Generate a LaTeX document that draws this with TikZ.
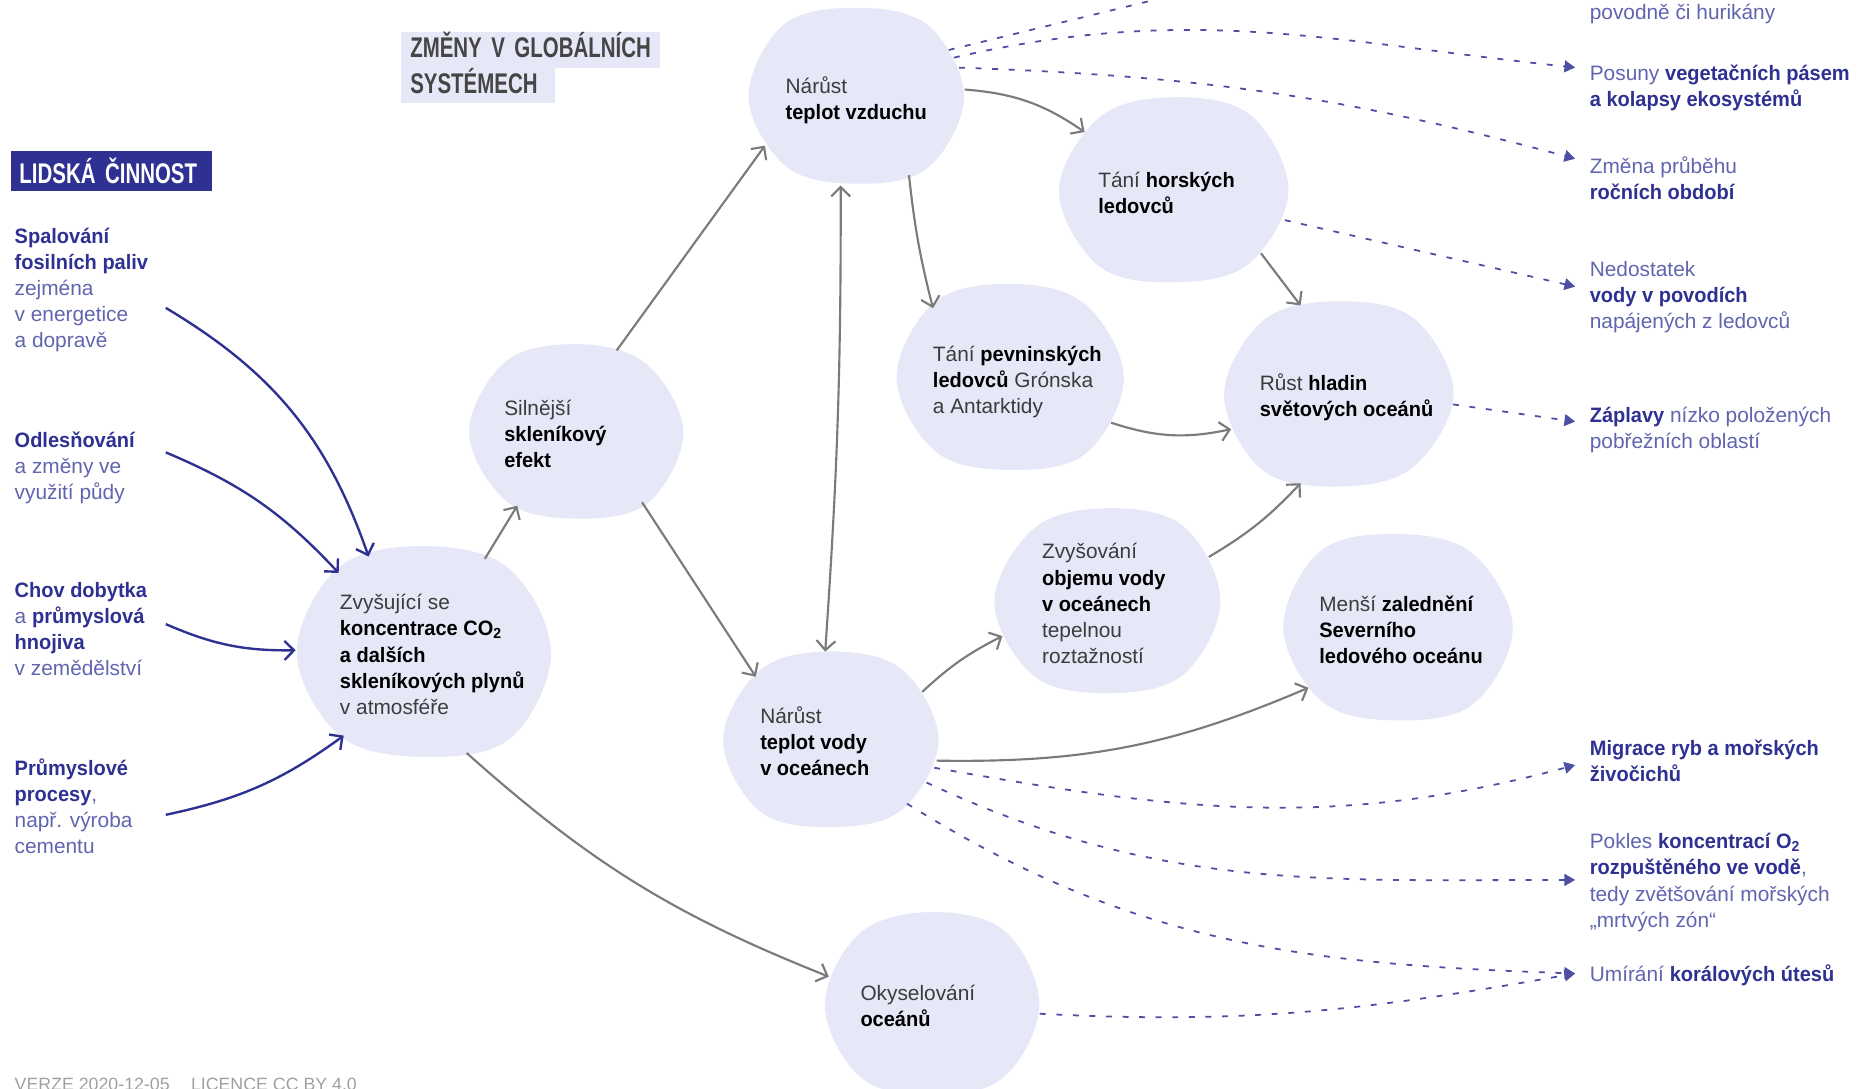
\documentclass[tikz,border=0pt]{standalone}
\usepackage{fontspec}
\setmainfont{Liberation Sans}[BoldFeatures={FakeStretch=0.96}]
\newfontfamily\headfont{Liberation Sans}[FakeStretch=0.72]
\usetikzlibrary{arrows.meta,calc,backgrounds,shapes.geometric}
\definecolor{navy}{HTML}{2E3192}
\definecolor{lblue}{HTML}{6165B0}
\definecolor{lav}{HTML}{E6E8F8}
\definecolor{gtext}{HTML}{3C3C3C}
\definecolor{garrow}{HTML}{7B7B7B}
\definecolor{headgrey}{HTML}{454545}
\definecolor{foot}{HTML}{A0A0A0}
\newcommand\Nb[1]{{\bfseries\color{navy}#1}}
\newcommand\Kb[1]{{\bfseries\color{black}#1}}
\newcommand\bt[2]{\kern#1\raisebox{0pt}[\height][\dimexpr\depth-3.6pt\relax]{\begin{tabular}{@{}l@{}}#2\end{tabular}}\kern-#1}
\newcommand\blob[9]{%
  \fill[lav] plot[smooth cycle, tension=0.6] coordinates {
    ($(#1.center)!#2!(#1.0)$) ($(#1.center)!#3!(#1.45)$)
    ($(#1.center)!#4!(#1.90)$) ($(#1.center)!#5!(#1.135)$)
    ($(#1.center)!#6!(#1.180)$) ($(#1.center)!#7!(#1.225)$)
    ($(#1.center)!#8!(#1.270)$) ($(#1.center)!#9!(#1.315)$)};}
\begin{document}
\begin{tikzpicture}[x=0.5pt,y=0.5pt,
  every node/.style={inner sep=0pt},
  body/.style={font=\fontsize{8.8}{11}\selectfont},
  side/.style={body, text=lblue, align=left, anchor=north west},
  bub/.style={body, ellipse, text=gtext, inner sep=-8pt},
  head/.style={anchor=north west, font=\headfont\bfseries\fontsize{12}{14}\selectfont, align=left, inner ysep=0pt},
  garr/.style={draw=garrow, line width=0.9pt, -{Straight Barb[length=4pt,width=8pt]}},
  narr/.style={draw=navy, line width=1pt, -{Straight Barb[length=4pt,width=8pt]}},
  dashl/.style={draw=navy!85, line width=0.75pt, dash pattern=on 2.5pt off 4.5pt, -{Triangle[length=4.5pt,width=5pt]}},
]
\begin{pgfonlayer}{background}
\fill[white] (0,0) rectangle (1568,919);
\end{pgfonlayer}
\useasboundingbox (0,0) rectangle (1568,919);

% headings
\node[head, fill=navy, text=white, minimum height=17pt, text width=78pt, inner xsep=3.5pt] (hum) at (9,792) {\mbox{LIDSKÁ ČINNOST}};
\node[head, fill=lav, text=headgrey, minimum height=15pt, text width=101.5pt, inner xsep=4pt, text height=8pt, text depth=1.5pt] (zm1) at (338,892) {\mbox{ZMĚNY V GLOBÁLNÍCH}};
\node[head, fill=lav, text=headgrey, minimum height=15pt, text width=57pt, inner xsep=4pt, text height=8pt, text depth=1.5pt] (zm2) at (338,862) {\mbox{SYSTÉMECH}};

% left column
\node[side] (t1) at (12,729) {\strut\Nb{Spalování}\\\Nb{fosilních paliv}\\zejména\\v energetice\\a dopravě};
\node[side] (t2) at (12,557) {\strut\Nb{Odlesňování}\\a změny ve\\využití půdy};
\node[side] (t3) at (12,430) {\strut\Nb{Chov dobytka}\\a \Nb{průmyslová}\\\Nb{hnojiva}\\v zemědělství};
\node[side] (t4) at (12,280) {\strut\Nb{Průmyslové}\\\Nb{procesy},\\např. výroba\\cementu};

% right column
\node[side] (r0) at (1342,918) {\strut povodně či hurikány};
\node[side] (r1) at (1342,867) {\strut Posuny \Nb{vegetačních pásem}\\\Nb{a kolapsy ekosystémů}};
\node[side] (r2) at (1342,788) {\strut Změna průběhu\\\Nb{ročních období}};
\node[side] (r3) at (1342,701) {\strut Nedostatek\\\Nb{vody v povodích}\\napájených z ledovců};
\node[side] (r4) at (1342,578) {\strut\Nb{Záplavy} nízko položených\\pobřežních oblastí};
\node[side] (r5) at (1342,297) {\strut\Nb{Migrace ryb a mořských}\\\Nb{živočichů}};
\node[side] (r6) at (1342,218) {\strut Pokles \Nb{koncentrací O\textsubscript{2}}\\\Nb{rozpuštěného ve vodě},\\tedy zvětšování mořských\\„mrtvých zón“};
\node[side] (r7) at (1342,106) {\strut Umírání \Nb{korálových útesů}};

% bubbles
\node[bub, minimum width=91.5pt, minimum height=75pt] (vz) at (723,837) {\bt{0pt}{Nárůst\\\Kb{teplot vzduchu}}};
\node[bub, minimum width=97.5pt, minimum height=78.5pt] (hor) at (992,758) {\bt{-3.5pt}{Tání \Kb{horských}\\\Kb{ledovců}}};
\node[bub, minimum width=96.5pt, minimum height=79pt] (pev) at (853,600) {\bt{3pt}{Tání \Kb{pevninských}\\\Kb{ledovců} Grónska\\a Antarktidy}};
\node[bub, minimum width=97pt, minimum height=79pt] (hl) at (1130,586) {\bt{3.5pt}{Růst \Kb{hladin}\\\Kb{světových oceánů}}};
\node[bub, minimum width=90.5pt, minimum height=74pt] (sk) at (487,554) {\bt{-9pt}{Silnější\\\Kb{skleníkový}\\\Kb{efekt}}};
\node[bub, minimum width=108pt, minimum height=89.5pt] (co) at (358,368) {\bt{3.5pt}{Zvyšující se\\\Kb{koncentrace CO\textsubscript{2}}\\\Kb{a dalších}\\\Kb{skleníkových plynů}\\v atmosféře}};
\node[bub, minimum width=96pt, minimum height=78.5pt] (obj) at (936,411) {\bt{-2pt}{Zvyšování\\\Kb{objemu vody}\\\Kb{v oceánech}\\tepelnou\\roztažností}};
\node[bub, minimum width=97pt, minimum height=79.5pt] (led) at (1180,389) {\bt{1.5pt}{Menší \Kb{zalednění}\\\Kb{Severního}\\\Kb{ledového oceánu}}};
\node[bub, minimum width=91pt, minimum height=74.5pt] (voda) at (702,294) {\bt{-7pt}{Nárůst\\\Kb{teplot vody}\\\Kb{v oceánech}}};
\node[bub, minimum width=91pt, minimum height=77.5pt] (oky) at (787,71) {\bt{-6pt}{Okyselování\\\Kb{oceánů}}};

\begin{pgfonlayer}{background}
\blob{vz}{0.99}{1.04}{1.0}{1.05}{0.99}{1.01}{0.97}{1.03}
\blob{hor}{0.98}{1.04}{1.0}{1.02}{1.0}{1.04}{0.98}{1.01}
\blob{pev}{0.99}{1.02}{1.0}{1.04}{0.99}{1.02}{0.98}{1.04}
\blob{hl}{1.0}{1.04}{0.99}{1.02}{0.99}{1.04}{0.98}{1.01}
\blob{sk}{0.99}{1.01}{1.0}{1.04}{1.0}{1.02}{0.98}{1.04}
\blob{co}{0.99}{1.03}{1.0}{1.04}{0.99}{1.02}{0.98}{1.05}
\blob{obj}{0.98}{1.04}{1.0}{1.02}{1.0}{1.03}{0.98}{1.02}
\blob{led}{1.0}{1.02}{0.99}{1.05}{0.99}{1.02}{0.98}{1.04}
\blob{voda}{0.99}{1.03}{1.0}{1.03}{1.0}{1.04}{0.98}{1.02}
\blob{oky}{0.99}{1.04}{1.0}{1.02}{0.99}{1.03}{1.0}{1.03}
\end{pgfonlayer}

% grey connectors
\draw[garr] (co.57) -- (sk.231);
\draw[garr] (sk.64) -- (vz.208);
\draw[garr] (sk.313) -- (voda.140);
\draw[garr] (co.293) to[bend right=10] (oky.165);
\draw[garr] (vz.4) to[bend left=15] (hor.147);
\draw[garr] (vz.304) to[bend right=4] (pev.138);
\draw[garr, {Straight Barb[length=4pt,width=8pt]}-{Straight Barb[length=4pt,width=8pt]}] (vz.260) to[bend left=2] (voda.94);
\draw[garr] (hor.324) -- (hl.113);
\draw[garr] (pev.336) to[bend right=15] (hl.198);
\draw[garr] (obj.24) to[bend right=8] (hl.247);
\draw[garr] (voda.28) to[bend left=8] (obj.198);
\draw[garr] (voda.349) to[bend right=12] (led.214);

% navy arrows from human activities
\coordinate (s1) at (140,659);
\coordinate (s2) at (140,537);
\coordinate (s3) at (140,392);
\coordinate (s4) at (140,231);
\draw[narr] (s1) to[bend left=20] (co.120);
\draw[narr] (s2) to[bend left=12] (co.137);
\draw[narr] (s3) to[bend right=12] (co.179);
\draw[narr] (s4) to[bend right=12] (co.226);

% dashed consequences
\coordinate (e0) at (1040,935);
\coordinate (e1) at (1330,862);
\coordinate (e2) at (1330,785);
\coordinate (e3) at (1330,677);
\coordinate (e4) at (1330,563);
\coordinate (e5) at (1330,273);
\coordinate (e6) at (1330,176);
\coordinate (e7) at (1330,97);
\draw[dashl, arrows=-] (vz.27) -- (e0);
\draw[dashl] (vz.22) to[out=13, in=174] (e1);
\draw[dashl] (vz.16) to[out=-2, in=165] (e2);
\draw[dashl] (hor.-15) -- (e3);
\draw[dashl] (hl.-5) -- (e4);
\draw[dashl] (voda.-15) to[out=-10, in=195] (e5);
\draw[dashl] (voda.-24) to[out=-25, in=180] (e6);
\draw[dashl] (voda.-40) to[out=-32, in=178] (e7);
\draw[dashl] (oky.-5) to[out=-3, in=190] (e7);

% footer
\node[anchor=base west, font=\fontsize{7.5}{9}\selectfont, text=foot] (foot) at (12,-2) {VERZE 2020-12-05\hspace{9pt}LICENCE CC BY 4.0};
\end{tikzpicture}
\end{document}
